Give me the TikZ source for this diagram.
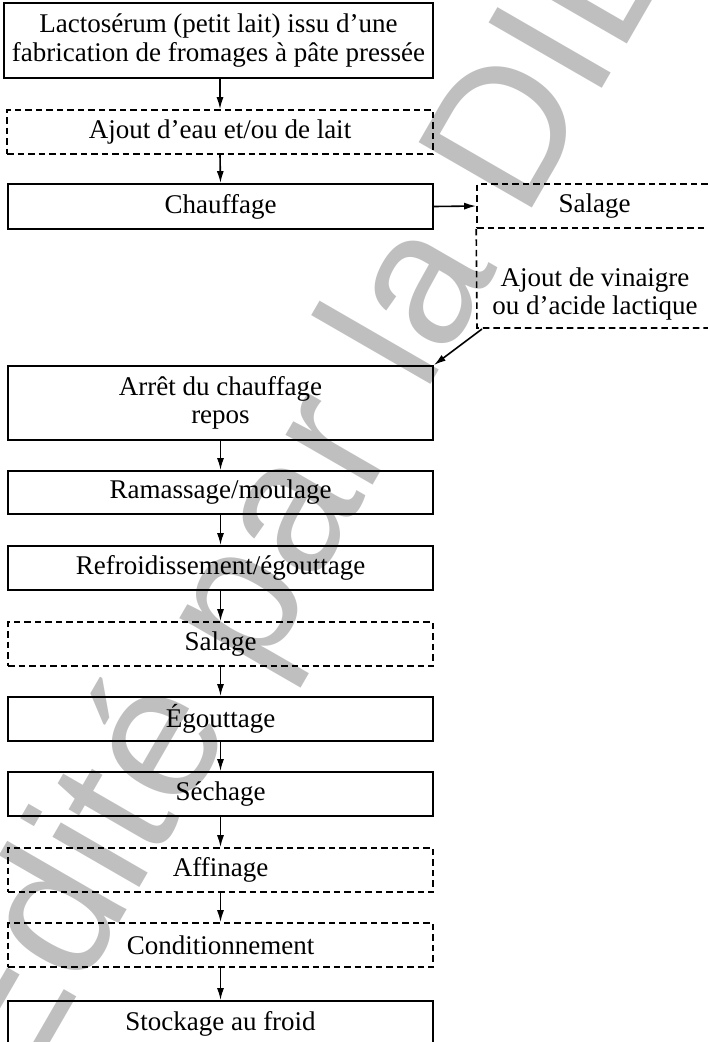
\documentclass[tikz,border=0pt]{standalone}
\usepackage{fontspec}
\setmainfont{Liberation Serif}
\newfontfamily\wmfont{Liberation Sans}
\usetikzlibrary{arrows.meta}
\begin{document}
\begin{tikzpicture}[x=1pt,y=-1pt,
  boxfont/.style={font=\fontsize{27}{28.5}\selectfont},
  stepbox/.style={draw, line width=1.8pt, inner sep=0pt, minimum width=425pt,
    minimum height=44pt, align=center, boxfont},
  optline/.style={line width=1.6pt, dash pattern=on 6.5pt off 4pt},
  optbox/.style={stepbox, optline},
  flow/.style={line width=1.6pt, -{Latex[length=12pt,width=7pt]}},
  watermark/.style={text=black!25, font=\wmfont\fontsize{190}{190}\selectfont,
    inner sep=0pt, anchor=base west, rotate=60}]
\useasboundingbox (0,0) rectangle (708,1042);
\clip (0,0) rectangle (708,1042);

% stamp behind the chart
\node[watermark] (wm) at (17.5,1100) {Édité par la DIL};

% main column
\node[stepbox, minimum width=429pt, minimum height=75pt] (lacto) at (218.5,40.5)
  {Lactosérum (petit lait) issu d'une\\fabrication de fromages à pâte pressée};
\node[optbox, minimum width=426pt] (eau) at (220,132) {Ajout d'eau et/ou de lait};
\node[stepbox, minimum height=45pt] (chauf) at (220.5,206.5) {Chauffage};
\node[stepbox, minimum height=74pt] (arret) at (220.5,403) {Arrêt du chauffage\\repos};
\node[stepbox, minimum height=43pt] (ramas) at (220.5,492.5) {Ramassage/moulage};
\node[stepbox] (refroid) at (220.5,568) {Refroidissement/égouttage};
\node[optbox] (sal2) at (220.5,644) {Salage};
\node[stepbox] (egout) at (220.5,719) {Égouttage};
\node[stepbox] (sech) at (220.5,794) {Séchage};
\node[optbox] (affin) at (220.5,870) {Affinage};
\node[optbox] (cond) at (220.5,945) {Conditionnement};
\node[stepbox, minimum height=45pt] (stock) at (220.5,1023.5) {Stockage au froid};

% side branch
\node[optbox, minimum width=235pt] (sal1) at (594.5,206) {Salage};
\node[align=center, inner sep=0pt, boxfont] (vin) at (595,294)
  {Ajout de vinaigre\\ou d'acide lactique};
\coordinate (vinSW) at (477,328);
\coordinate (vinSE) at (712,328);
\draw[optline] (sal1.south west) -- (vinSW) -- (vinSE) -- (sal1.south east);

% connectors
\draw[flow] (lacto.south -| eau.south) -- (eau.north);
\draw[flow] (eau.south) -- (chauf.north);
\draw[flow] (chauf.east) -- (sal1.west);
\draw[flow] ([shift={(5,1)}]vinSW) -- (arret.north east);
\draw[flow] (arret.south) -- (ramas.north);
\draw[flow] (ramas.south) -- (refroid.north);
\draw[flow] (refroid.south) -- (sal2.north);
\draw[flow] (sal2.south) -- (egout.north);
\draw[flow] (egout.south) -- (sech.north);
\draw[flow] (sech.south) -- (affin.north);
\draw[flow] (affin.south) -- (cond.north);
\draw[flow] (cond.south) -- (stock.north);
\end{tikzpicture}
\end{document}
